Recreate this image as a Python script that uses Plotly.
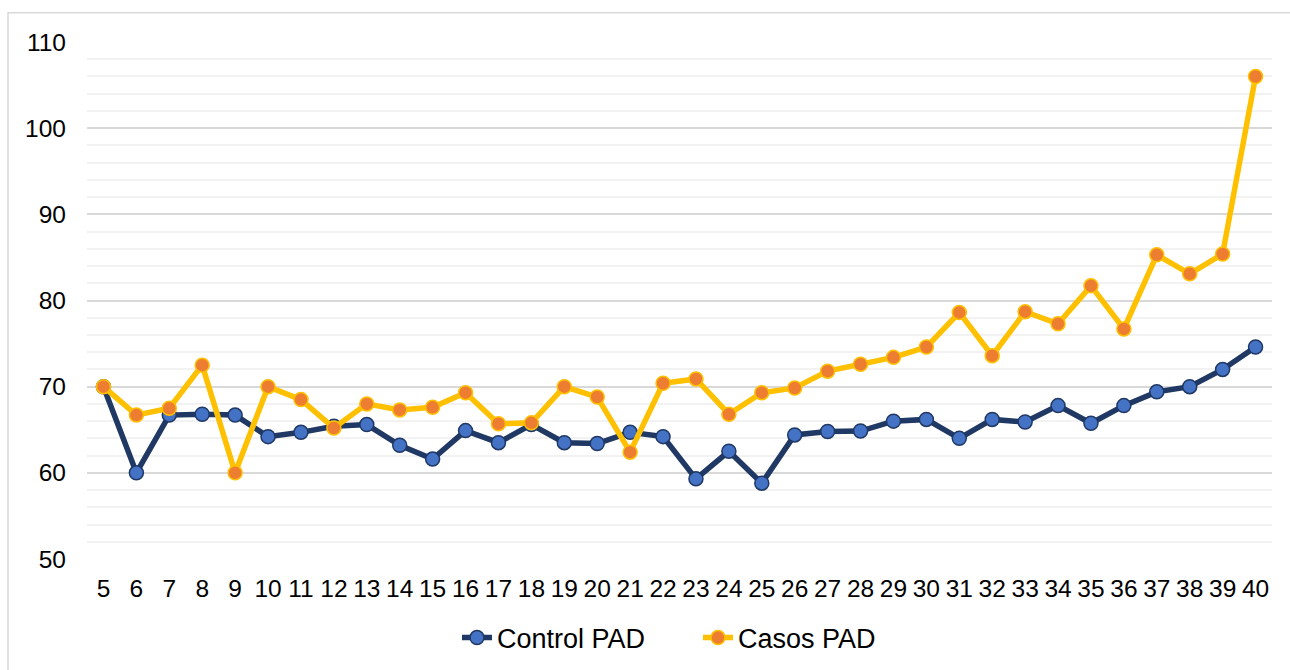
import plotly.graph_objects as go

weeks = list(range(5, 41))
control_pad = [70.0, 60.0, 66.7, 66.8, 66.7, 64.2, 64.7, 65.4, 65.6, 63.2,
               61.6, 64.9, 63.5, 65.6, 63.5, 63.4, 64.7, 64.2, 59.3, 62.5,
               58.8, 64.4, 64.8, 64.85, 66.0, 66.2, 64.0, 66.2, 65.9, 67.8,
               65.75, 67.8, 69.4, 70.0, 72.0, 74.6]
casos_pad = [70.0, 66.7, 67.5, 72.5, 60.0, 70.0, 68.5, 65.2, 68.0, 67.3,
             67.6, 69.3, 65.7, 65.8, 70.0, 68.8, 62.4, 70.4, 70.9, 66.8,
             69.3, 69.85, 71.8, 72.6, 73.4, 74.6, 78.6, 73.6, 78.7, 77.3,
             81.7, 76.7, 85.3, 83.1, 85.4, 106.0]
y_ticks = [50, 60, 70, 80, 90, 100, 110]

FONT = "Liberation Sans, Arial, sans-serif"

fig = go.Figure()
fig.add_trace(go.Scatter(
    x=weeks, y=control_pad, name="Control PAD", mode="lines+markers",
    line=dict(color="#203864", width=5.5),
    marker=dict(size=14, color="#4472C4", line=dict(color="#203864", width=1.5)),
))
fig.add_trace(go.Scatter(
    x=weeks, y=casos_pad, name="Casos PAD", mode="lines+markers",
    line=dict(color="#FFC000", width=5.5),
    marker=dict(size=14, color="#ED7D31", line=dict(color="#FFC000", width=1.5)),
))

fig.update_layout(
    width=1290, height=670,
    margin=dict(l=87, r=18, t=42, b=111, autoexpand=False),
    paper_bgcolor="white", plot_bgcolor="white",
    font=dict(family=FONT, color="#000000", size=24),
    showlegend=True,
    legend=dict(orientation="h", xref="container", yref="container",
                x=457 / 1290, xanchor="left", y=1 - 638 / 670, yanchor="middle",
                font=dict(size=27, family=FONT, color="#000000"),
                entrywidth=196, entrywidthmode="pixels",
                bgcolor="rgba(0,0,0,0)"),
    xaxis=dict(range=[4.5, 40.5], tickmode="array", tickvals=weeks,
               ticktext=[str(w) for w in weeks], showgrid=False, zeroline=False,
               showline=False, ticks="", ticklabelstandoff=12, automargin=False,
               tickfont=dict(size=24.5, family=FONT, color="#000000"), fixedrange=True),
    yaxis=dict(range=[50, 110], tickmode="array", tickvals=y_ticks,
               showgrid=True, gridcolor="#D9D9D9", gridwidth=1.5, zeroline=False,
               showline=False, ticks="", ticklabelstandoff=20, automargin=False,
               tickfont=dict(size=24.5, family=FONT, color="#000000"),
               minor=dict(dtick=2, tick0=50, showgrid=True, gridcolor="#F2F2F2", gridwidth=1.5),
               fixedrange=True),
    shapes=[dict(type="rect", xref="paper", yref="paper",
                 x0=(8 - 87) / 1185, x1=(1300 - 87) / 1185,
                 y0=(558.7 - 700) / 516.4, y1=(558.7 - 13) / 516.4,
                 line=dict(color="#D9D9D9", width=1.5), fillcolor="rgba(0,0,0,0)",
                 layer="below")],
)

fig.write_html("out.html", config={"displayModeBar": False},
               post_script="document.body.style.margin='0';document.body.style.overflow='hidden';")
